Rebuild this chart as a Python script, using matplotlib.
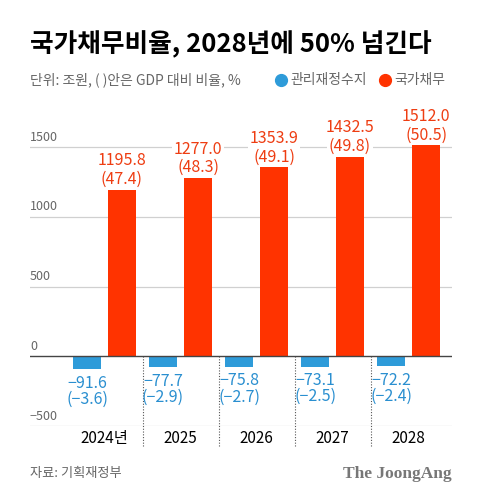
import matplotlib.pyplot as plt

plt.rcParams['font.family'] = ['Noto Sans CJK KR', 'DejaVu Sans']

years = ['2024년', '2025', '2026', '2027', '2028']
balance = [-91.6, -77.7, -75.8, -73.1, -72.2]
balance_gdp = ['(−3.6)', '(−2.9)', '(−2.7)', '(−2.5)', '(−2.4)']
debt = [1195.8, 1277.0, 1353.9, 1432.5, 1512.0]
debt_gdp = ['(47.4)', '(48.3)', '(49.1)', '(49.8)', '(50.5)']
yticks = [-500, 0, 500, 1000, 1500]

blue = '#2e9bd9'
orange = '#ff3300'
blue_txt = '#2a8fd0'
orange_txt = '#ee3d12'
gray = '#666666'

fig = plt.figure(figsize=(4.8, 5.03), dpi=100)
ax = fig.add_axes([0.0625, 0.153, 0.879, 0.61])

x = list(range(len(years)))
w = 0.37
off = 0.23
ax.bar([i - off for i in x], balance, width=w, color=blue, zorder=3)
ax.bar([i + off for i in x], debt, width=w, color=orange, zorder=3)

ax.set_xlim(-0.98, 4.57)
ax.set_ylim(-500, 1700)

# gridlines and y labels
for v in yticks:
    if v == 0:
        ax.axhline(v, color='#444444', lw=1.0, zorder=4)
    else:
        ax.axhline(v, color='#d0d0d0', lw=0.9, zorder=1)
    lab = str(v).replace('-', '−')
    ax.text(-0.98, v + 25, lab, ha='left', va='bottom', fontsize=9,
            color=gray, zorder=5)

# dotted separators between years
ax.vlines([0.5, 1.5, 2.5, 3.5], -640, 0, colors='#555555', lw=0.8,
          linestyles=(0, (1, 1.5)), clip_on=False, zorder=2)

# value labels
for i in x:
    ax.text(i + off, debt[i] + 205, f'{debt[i]:.1f}', ha='center', va='center',
            fontsize=11.5, color=orange_txt, fontweight='medium', zorder=6,
            bbox=dict(boxstyle='square,pad=0.1', fc='white', ec='none'))
    ax.text(i + off, debt[i] + 75, debt_gdp[i], ha='center', va='center',
            fontsize=11.5, color=orange_txt, zorder=6,
            bbox=dict(boxstyle='square,pad=0.1', fc='white', ec='none'))
    ax.text(i - off, balance[i] - 100, f'{balance[i]:.1f}'.replace('-', '−'),
            ha='center', va='center', fontsize=11.5, color=blue_txt,
            fontweight='medium', zorder=6)
    ax.text(i - off, balance[i] - 215, balance_gdp[i], ha='center',
            va='center', fontsize=11.5, color=blue_txt, zorder=6)

ax.set_xticks(x)
ax.set_xticklabels(years, fontsize=11, color='black')
ax.tick_params(axis='x', length=0, pad=3)
ax.set_yticks([])
for s in ax.spines.values():
    s.set_visible(False)

# title, subtitle, legend
fig.text(0.0625, 1 - 45 / 503, '국가채무비율, 2028년에 50% 넘긴다', fontsize=18.5,
         fontweight='bold', va='center', ha='left', color='black')
fig.text(0.0625, 1 - 80 / 503, '단위: 조원, ( )안은 GDP 대비 비율, %', fontsize=10,
         va='center', ha='left', color=gray)
fig.lines.append(plt.Line2D([281 / 480], [1 - 80 / 503], marker='o', markersize=8.5,
                            color=blue, transform=fig.transFigure))
fig.text(290 / 480, 1 - 80 / 503, '관리재정수지', fontsize=10, va='center',
         ha='left', color=gray)
fig.lines.append(plt.Line2D([385 / 480], [1 - 80 / 503], marker='o', markersize=8.5,
                            color=orange, transform=fig.transFigure))
fig.text(394 / 480, 1 - 80 / 503, '국가채무', fontsize=10, va='center',
         ha='left', color=gray)

# footer
fig.text(0.0625, 1 - 474 / 503, '자료: 기획재정부', fontsize=9.5, va='center',
         ha='left', color=gray)
fig.text(452 / 480, 1 - 474 / 503, 'The JoongAng', fontsize=12.5, va='center',
         ha='right', color='#777777', family='Liberation Serif', fontweight='bold')

fig.savefig('out.png', dpi=100, facecolor='white')
